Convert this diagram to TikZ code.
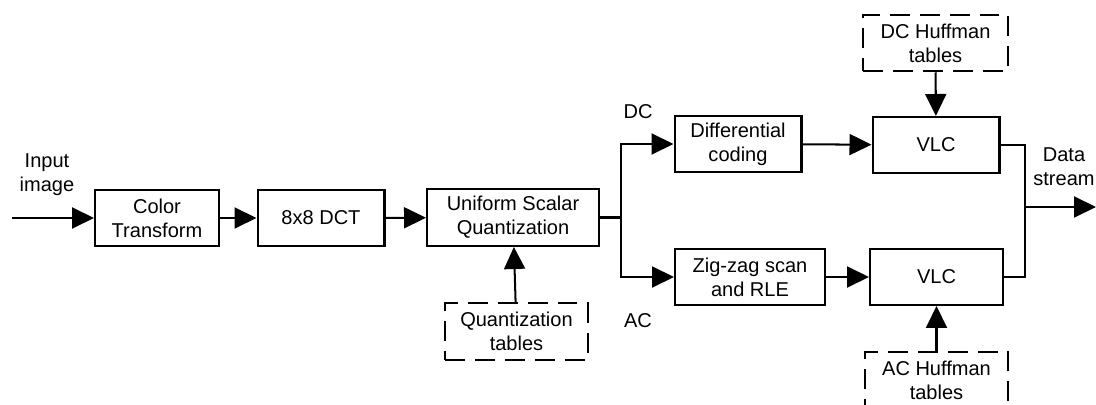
\documentclass[tikz,border=0pt]{standalone}
\usepackage{fontspec}
\setmainfont{Liberation Sans}
\usetikzlibrary{arrows.meta}

\begin{document}
\begin{tikzpicture}[x=0.02cm,y=-0.02cm,line width=1.15pt,
  >={Triangle[length=0.44cm,width=0.42cm]},
  every node/.style={font=\fontsize{11.4}{13.7}\selectfont,align=center,inner sep=0pt},
  block/.style={draw,minimum height=1.12cm},
  table/.style={draw,dash pattern=on 0.4cm off 0.2cm,minimum height=1.13cm}]
\useasboundingbox (0,0) rectangle (1096,405);

% Main chain
\node[block,minimum width=2.48cm] (ct) at (157,218) {Color\\Transform};
\node[block,minimum width=2.54cm] (dct) at (321,218) {8x8 DCT};
\node[block,minimum width=3.44cm,minimum height=1.14cm] (usq) at (513,217.5) {Uniform Scalar\\Quantization};

% DC and AC branches
\node[block,minimum width=2.54cm] (diff) at (738,144) {Differential\\coding};
\node[block,minimum width=3.0cm] (zz) at (750,277) {Zig-zag scan\\and RLE};
\node[block,minimum width=2.54cm] (vlc1) at (936,145) {VLC};
\node[block,minimum width=2.66cm] (vlc2) at (936.5,277) {VLC};

% Tables
\node[table,minimum width=2.86cm] (qt) at (516.5,331.5) {Quantization\\tables};
\node[table,minimum width=2.9cm] (dch) at (935.5,43) {DC Huffman\\tables};
\node[table,minimum width=2.86cm] (ach) at (936.5,380) {AC Huffman\\tables};

% Labels
\node (in) at (47,175) {Input\\image};
\node (ds) at (1064,167) {Data\\stream};
\node (dc) at (638,112) {DC};
\node (ac) at (638,321) {AC};

\coordinate (src) at (12,218);
\coordinate (split) at (621,217.5);
\coordinate (join) at (1025,207);
\coordinate (out) at (1096,207);

% Connectors
\draw[->] (src) -- (ct.west);
\draw[->] (ct) -- (dct);
\draw[->] (dct) -- (usq);
\draw (usq.east) -- (split);
\draw[->] (split) |- (diff.west);
\draw[->] (split) |- (zz.west);
\draw[->] (diff) -- (vlc1);
\draw[->] (zz) -- (vlc2);
\draw[->] (qt) -- (usq);
\draw[->] (dch) -- (vlc1);
\draw[->] (ach) -- (vlc2);
\draw (vlc1.east) -| (join) |- (vlc2.east);
\draw[->] (join) -- (out);
\end{tikzpicture}
\end{document}
